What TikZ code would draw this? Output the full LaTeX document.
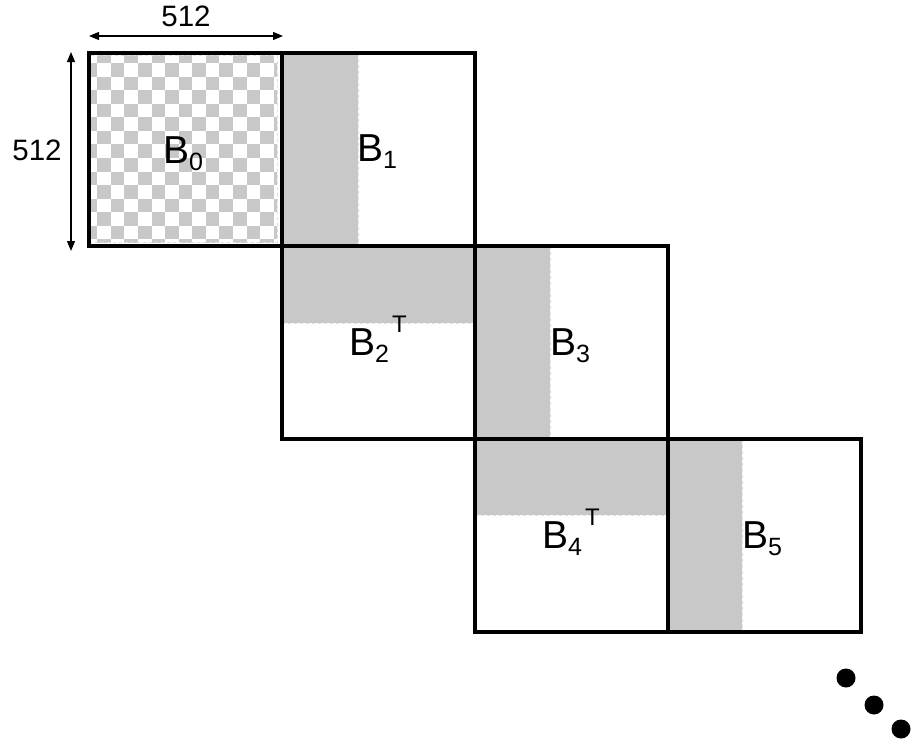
\documentclass[tikz,border=0pt]{standalone}
\usepackage{fontspec}
\setmainfont{Liberation Sans}
\usetikzlibrary{arrows.meta}

\definecolor{bandgray}{RGB}{200,200,200}

% block label: B with subscript and optional superscript
\newcommand{\blocklabel}[2]{%
  {\fontsize{39}{39}\selectfont B}%
  \raisebox{-7pt}{\fontsize{25}{25}\selectfont #1}%
  \kern3pt\raisebox{22.5pt}{\fontsize{24}{24}\selectfont #2}}

\tikzset{
  blockframe/.style={draw=black, line width=3.2pt, line join=miter},
  band/.style={fill=bandgray},
  bandedge/.style={draw=gray!25, dashed, line width=0.6pt},
  dimline/.style={line width=1.2pt, {Triangle[length=10pt,width=8pt]}-{Triangle[length=10pt,width=8pt]}},
  dimtext/.style={font=\fontsize{29.5}{29.5}\selectfont, inner sep=0pt, anchor=base},
  blocktext/.style={inner sep=0pt, anchor=base west},
  dot/.style={fill=black}
}

\begin{document}
\begin{tikzpicture}[x=1pt, y=-1pt]
\useasboundingbox (0,0) rectangle (911,744);

% checkerboard of block 0
\begin{scope}
  \clip (90,55) rectangle (277,242);
  \foreach \i in {0,...,14}
    \foreach \j in {0,...,7} {
      \pgfmathtruncatemacro{\r}{2*\j+mod(\i+1,2)}
      \fill[bandgray] (83.7+\i*13.57, 49.4+\r*13.57) rectangle ++(13.57,13.57);
    }
\end{scope}

% shaded bands
\fill[band] (282,53) rectangle (358,246);
\fill[band] (282,246) rectangle (475,323);
\fill[band] (475,246) rectangle (550,439);
\fill[band] (475,439) rectangle (668,515);
\fill[band] (668,439) rectangle (742,632);

\draw[bandedge] (358,53) -- (358,246);
\draw[bandedge] (282,323) -- (475,323);
\draw[bandedge] (550,246) -- (550,439);
\draw[bandedge] (475,515) -- (668,515);
\draw[bandedge] (742,439) -- (742,632);
\draw[bandedge] (90,55) rectangle (277,242);

% block frames
\draw[blockframe] (89,53) rectangle (282,246);
\draw[blockframe] (282,53) rectangle (475,246);
\draw[blockframe] (282,246) rectangle (475,439);
\draw[blockframe] (475,246) rectangle (668,439);
\draw[blockframe] (475,439) rectangle (668,632);
\draw[blockframe] (668,439) rectangle (861,632);

% dimension arrows
\coordinate (hl) at (89,36);
\coordinate (hr) at (283,36);
\coordinate (vt) at (71,52);
\coordinate (vb) at (71,251);
\draw[dimline] (hl) -- (hr);
\draw[dimline] (vt) -- (vb);
\node[dimtext] (wlab) at (186,26) {512};
\node[dimtext] (hlab) at (37,160) {512};

% block labels
\node[blocktext] (b0) at (163,163) {\blocklabel{0}{}};
\node[blocktext] (b1) at (357,161) {\blocklabel{1}{}};
\node[blocktext] (b2) at (349,355) {\blocklabel{2}{T}};
\node[blocktext] (b3) at (550,355) {\blocklabel{3}{}};
\node[blocktext] (b4) at (542,548) {\blocklabel{4}{T}};
\node[blocktext] (b5) at (742,548) {\blocklabel{5}{}};

% continuation dots
\fill[dot] (846,678) circle (9.5);
\fill[dot] (874,705) circle (9.5);
\fill[dot] (901,729) circle (9.5);
\end{tikzpicture}
\end{document}
